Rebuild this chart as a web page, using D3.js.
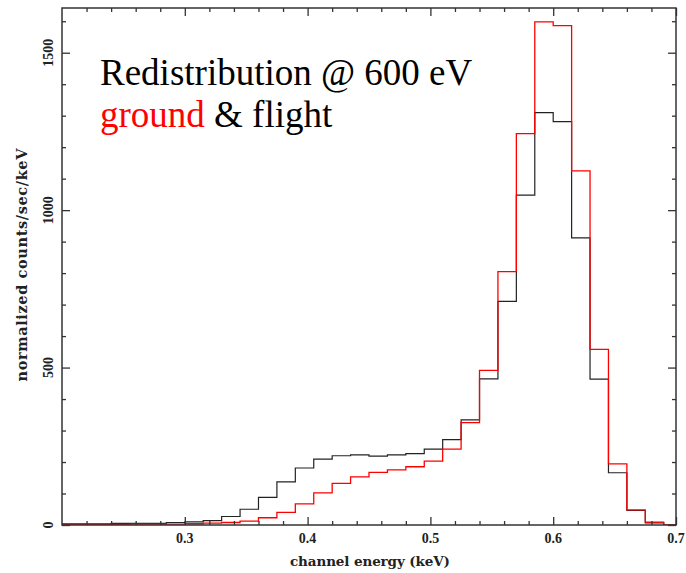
<!DOCTYPE html>
<html>
<head>
<meta charset="utf-8">
<script src="https://cdn.jsdelivr.net/npm/d3@7"></script>
<style>
  html, body { margin: 0; padding: 0; background: #fff; }
  svg { display: block; }
</style>
</head>
<body>
<svg id="chart" width="686" height="573"></svg>
<script>
// ---- data ----
// bin edges: 0.195 + 0.015*k keV (channel width 15 eV)
const binStart = 0.195;
const binWidth = 0.015;
const flight = [4, 4, 4, 5, 5, 5, 8, 10, 14, 27, 50, 88, 137, 181, 209, 220, 223, 219, 223, 227, 241, 271, 334, 464, 710, 1048, 1310, 1281, 912, 463, 166, 46, 7, 0];
const ground = [2, 2, 2, 2, 3, 3, 3, 4, 6, 8, 12, 23, 40, 67, 102, 132, 153, 167, 175, 185, 203, 241, 325, 491, 805, 1243, 1598, 1586, 1125, 558, 194, 48, 9, 0];
const xMajorTicks = [0.3, 0.4, 0.5, 0.6, 0.7];
const xTickLabels = ["0.3", "0.4", "0.5", "0.6", "0.7"];
const yMajorTicks = [0, 500, 1000, 1500];
const yTickLabels = ["0", "500", "1000", "1500"];
const xDomain = [0.2, 0.7];
const yDomain = [0, 1642];

// ---- layout ----
const L = 62, R = 676, T = 8, B = 525;
const svg = d3.select("#chart");
const x = d3.scaleLinear().domain(xDomain).range([L, R]);
const y = d3.scaleLinear().domain(yDomain).range([B, T]);

svg.append("defs").append("clipPath").attr("id", "clip")
  .append("rect").attr("x", L).attr("y", T).attr("width", R - L).attr("height", B - T);

function stepPoints(vals) {
  const pts = [];
  vals.forEach((v, i) => {
    const a = binStart + i * binWidth, b = a + binWidth;
    pts.push([a, v], [b, v]);
  });
  return pts;
}
const line = d3.line().x(d => x(d[0])).y(d => y(d[1]));

const g = svg.append("g").attr("clip-path", "url(#clip)");
g.append("path").attr("d", line(stepPoints(flight)))
  .attr("fill", "none").attr("stroke", "#222").attr("stroke-width", 1.2);
g.append("path").attr("d", line(stepPoints(ground)))
  .attr("fill", "none").attr("stroke", "#ff0000").attr("stroke-width", 1.3);

// ---- axes / frame ----
const axisColor = "#333";
const xMinor = d3.range(0.22, 0.7, 0.02).filter(v => !xMajorTicks.some(m => Math.abs(m - v) < 1e-6));
const yMinor = d3.range(100, 1642, 100).filter(v => v % 500 !== 0);

function styleAxis(sel) {
  sel.select(".domain").remove();
  sel.selectAll("line").attr("stroke", axisColor).attr("stroke-width", 1.3);
  sel.selectAll("text").remove();
}
// bottom
svg.append("g").attr("transform", `translate(0,${B})`).call(d3.axisBottom(x).tickValues(xMajorTicks).tickSize(-8)).call(styleAxis);
svg.append("g").attr("transform", `translate(0,${B})`).call(d3.axisBottom(x).tickValues(xMinor).tickSize(-4)).call(styleAxis);
// top
svg.append("g").attr("transform", `translate(0,${T})`).call(d3.axisTop(x).tickValues(xMajorTicks).tickSize(-8)).call(styleAxis);
svg.append("g").attr("transform", `translate(0,${T})`).call(d3.axisTop(x).tickValues(xMinor).tickSize(-4)).call(styleAxis);
// left
svg.append("g").attr("transform", `translate(${L},0)`).call(d3.axisLeft(y).tickValues(yMajorTicks).tickSize(-8)).call(styleAxis);
svg.append("g").attr("transform", `translate(${L},0)`).call(d3.axisLeft(y).tickValues(yMinor).tickSize(-4)).call(styleAxis);
// right
svg.append("g").attr("transform", `translate(${R},0)`).call(d3.axisRight(y).tickValues(yMajorTicks).tickSize(-8)).call(styleAxis);
svg.append("g").attr("transform", `translate(${R},0)`).call(d3.axisRight(y).tickValues(yMinor).tickSize(-4)).call(styleAxis);

svg.append("rect").attr("x", L).attr("y", T).attr("width", R - L).attr("height", B - T)
  .attr("fill", "none").attr("stroke", axisColor).attr("stroke-width", 1.5);

// tick labels
const tickFont = "'Liberation Serif', 'DejaVu Serif', serif";
const titleFont = "'DejaVu Serif', 'Liberation Serif', serif";
svg.append("g").selectAll("text").data(xMajorTicks).join("text")
  .attr("x", d => x(d)).attr("y", 543)
  .attr("text-anchor", "middle").attr("font-family", tickFont).attr("font-size", 14).attr("font-weight", "bold")
  .attr("fill", "#222").text((d, i) => xTickLabels[i]);
svg.append("g").selectAll("text").data(yMajorTicks).join("text")
  .attr("transform", d => `translate(53,${y(d)}) rotate(-90)`)
  .attr("text-anchor", "middle").attr("font-family", tickFont).attr("font-size", 14).attr("font-weight", "bold")
  .attr("fill", "#222").text((d, i) => yTickLabels[i]);

// axis titles
svg.append("text").attr("x", 370).attr("y", 566).attr("text-anchor", "middle")
  .attr("font-family", titleFont).attr("font-size", 13.5).attr("font-weight", "bold").attr("fill", "#222")
  .attr("textLength", 160).attr("lengthAdjust", "spacing")
  .text("channel energy (keV)");
svg.append("text").attr("transform", `translate(27,265) rotate(-90)`).attr("text-anchor", "middle")
  .attr("font-family", titleFont).attr("font-size", 14.5).attr("font-weight", "bold").attr("fill", "#222")
  .attr("textLength", 233).attr("lengthAdjust", "spacing")
  .text("normalized counts/sec/keV");

// annotation
svg.append("text").attr("x", 100).attr("y", 85)
  .attr("font-family", "'Liberation Serif', 'Times New Roman', serif").attr("font-size", 37).attr("fill", "#000")
  .text("Redistribution @ 600 eV");
const ann2 = svg.append("text").attr("x", 100).attr("y", 127)
  .attr("font-family", "'Liberation Serif', 'Times New Roman', serif").attr("font-size", 37).attr("fill", "#000");
ann2.append("tspan").attr("fill", "#ff0000").text("ground");
ann2.append("tspan").text(" & flight");
</script>
</body>
</html>
